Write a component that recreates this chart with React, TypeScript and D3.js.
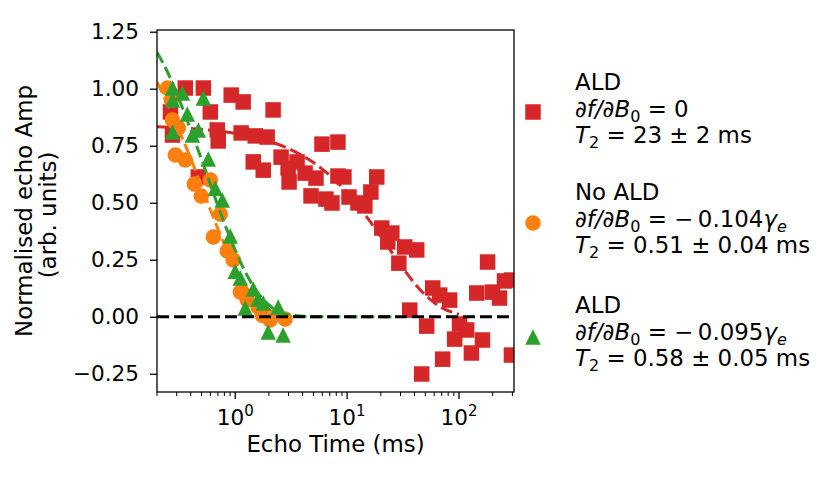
import React, { useRef, useEffect } from 'react';
import * as d3 from 'd3';

// ALD, df/dB0 = 0 (red squares)
const redTime = [0.264, 0.275, 0.358, 0.519, 0.921, 1.178, 0.599, 2.18, 0.691, 0.705, 1.13, 1.51, 1.93, 0.468,
  1.45, 1.78, 2.57, 2.97, 3.03, 3.57, 4.21, 5.27, 5.96, 8.28, 4.76, 6.47, 7.32, 8.28, 9.36, 10.4, 12.5, 14.4,
  16.3, 18.4, 20.4, 25.1, 23.1, 32.7, 41.9, 29.0, 58.2, 67.2, 82.5, 36.3, 51.4, 101, 117, 91.4, 162, 129, 71.4,
  46.4, 180, 144, 199, 230, 255, 294, 294];
const redAmp = [0.898, 0.797, 1.003, 1.003, 0.972, 0.942, 0.898, 0.907, 0.819, 0.771, 0.806, 0.793, 0.788, 0.613,
  0.679, 0.643, 0.700, 0.652, 0.591, 0.679, 0.630, 0.608, 0.757, 0.766, 0.530, 0.516, 0.499, 0.617, 0.613, 0.525,
  0.499, 0.486, 0.547, 0.613, 0.389, 0.367, 0.328, 0.306, 0.293, 0.235, 0.126, 0.095, 0.073, 0.029, -0.041, -0.032,
  -0.058, -0.098, -0.102, -0.159, -0.186, -0.251, 0.240, 0.104, 0.108, 0.082, 0.157, 0.161, -0.168];

// No ALD (orange circles)
const orangeTime = [0.248, 0.269, 0.275, 0.310, 0.292, 0.358, 0.431, 0.497, 0.599, 0.735, 0.637, 0.849, 0.960,
  1.11, 1.28, 1.60, 1.74, 2.05, 2.79];
const orangeAmp = [1.003, 0.951, 0.863, 0.828, 0.709, 0.687, 0.582, 0.529, 0.600, 0.450, 0.350, 0.288, 0.249,
  0.108, 0.073, 0.043, 0.007, -0.014, -0.010];

// ALD, df/dB0 = -0.095 (green triangles)
const greenTime = [0.275, 0.337, 0.519, 0.275, 0.373, 0.275, 0.414, 0.468, 0.574, 0.663, 0.766, 0.902, 1.0,
  1.11, 1.45, 1.60, 1.23, 1.78, 2.42, 1.97, 2.68];
const greenAmp = [1.003, 0.981, 0.959, 0.951, 0.889, 0.810, 0.797, 0.819, 0.692, 0.564, 0.512, 0.354, 0.200,
  0.170, 0.122, 0.078, 0.038, 0.060, 0.043, -0.067, -0.080];

// fitted curves
const redFitTime = [0.2, 0.5, 1, 2, 3, 5, 7, 10, 15, 20, 30, 40, 50, 70, 100];
const redFitAmp = [0.833, 0.822, 0.804, 0.770, 0.737, 0.676, 0.620, 0.544, 0.437, 0.353, 0.228, 0.147, 0.095, 0.040, 0.011];
const orangeFitTime = [0.2, 0.25, 0.3, 0.4, 0.5, 0.6, 0.8, 1.0, 1.3, 1.6, 2, 3];
const orangeFitAmp = [1.03, 0.93, 0.84, 0.695, 0.571, 0.469, 0.317, 0.214, 0.119, 0.066, 0.030, 0.004];
const greenFitTime = [0.2, 0.25, 0.3, 0.4, 0.5, 0.6, 0.8, 1.0, 1.3, 1.6, 2, 3, 5, 10, 25];
const greenFitAmp = [1.16, 1.07, 0.98, 0.82, 0.69, 0.58, 0.41, 0.292, 0.174, 0.104, 0.052, 0.009, 0.0003, 0, 0];

const yTicks = [-0.25, 0, 0.25, 0.5, 0.75, 1.0, 1.25];
const xTicks = [1, 10, 100];
const xTickExp = ['0', '1', '2'];

const legendHeads = ['ALD', 'No ALD', 'ALD'];
const legendSlopes = ['0', '0.104', '0.095'];
const legendT2 = ['23 ± 2 ms', '0.51 ± 0.04 ms', '0.58 ± 0.05 ms'];

const RED = '#d62728';
const ORANGE = '#ff7f0e';
const GREEN = '#2ca02c';

type Seg = { t: string; it?: boolean; sub?: boolean };

const App: React.FC = () => {
  const svgRef = useRef<SVGSVGElement>(null);

  useEffect(() => {
    if (!svgRef.current) return;
    const svg = d3.select(svgRef.current);
    svg.selectAll('*').remove();

    const left = 157, right = 514, top = 30, bottom = 392;
    const x = d3.scaleLog().domain([0.2, 310]).range([left, right]);
    const y = d3.scaleLinear().domain([-0.33, 1.2575]).range([bottom, top]);

    svg.append('clipPath').attr('id', 'plot-clip')
      .append('rect').attr('x', left).attr('y', top).attr('width', right - left).attr('height', bottom - top);

    const plot = svg.append('g').attr('clip-path', 'url(#plot-clip)');

    const line = d3.line<[number, number]>()
      .x(d => x(d[0]))
      .y(d => y(d[1]))
      .curve(d3.curveMonotoneX);

    const drawFit = (t: number[], a: number[], color: string) => {
      plot.append('path')
        .attr('d', line(t.map((v, i) => [v, a[i]] as [number, number])))
        .attr('fill', 'none')
        .attr('stroke', color)
        .attr('stroke-width', 3)
        .attr('stroke-dasharray', '12,5');
    };

    const size = 15.5;
    const square = d3.symbol().type(d3.symbolSquare).size(size * size);
    const circle = d3.symbol().type(d3.symbolCircle).size(Math.PI * (size / 2) * (size / 2));
    const triPath = `M0,${-size / 2}L${size / 2},${size / 2}L${-size / 2},${size / 2}Z`;

    // red
    plot.selectAll('.red').data(redTime).enter().append('path')
      .attr('d', square()!)
      .attr('transform', (d, i) => `translate(${x(d)},${y(redAmp[i])})`)
      .attr('fill', RED);
    drawFit(redFitTime, redFitAmp, RED);

    // orange
    plot.selectAll('.orange').data(orangeTime).enter().append('path')
      .attr('d', circle()!)
      .attr('transform', (d, i) => `translate(${x(d)},${y(orangeAmp[i])})`)
      .attr('fill', ORANGE);
    drawFit(orangeFitTime, orangeFitAmp, ORANGE);

    // green
    plot.selectAll('.green').data(greenTime).enter().append('path')
      .attr('d', triPath)
      .attr('transform', (d, i) => `translate(${x(d)},${y(greenAmp[i])})`)
      .attr('fill', GREEN);
    drawFit(greenFitTime, greenFitAmp, GREEN);

    // zero line
    plot.append('line')
      .attr('x1', left).attr('x2', right)
      .attr('y1', y(0)).attr('y2', y(0))
      .attr('stroke', 'black').attr('stroke-width', 3).attr('stroke-dasharray', '12,5');

    // y axis
    const yAxis = svg.append('g').attr('transform', `translate(${left},0)`)
      .call(d3.axisLeft(y).tickValues(yTicks).tickSize(7).tickPadding(11)
        .tickFormat(d => d3.format('.2f')(d as number).replace('-', '\u2212')));
    yAxis.select('.domain').remove();
    yAxis.selectAll('line').attr('stroke-width', 1.3);
    yAxis.selectAll('text').attr('font-family', 'DejaVu Sans').attr('font-size', 21.6).attr('fill', 'black');

    // x axis, major + minor ticks
    const minor = x.ticks().filter(t => !xTicks.some(m => Math.abs(m - t) < 1e-9));
    const xg = svg.append('g');
    xg.selectAll('.maj').data(xTicks).enter().append('line')
      .attr('x1', d => x(d)).attr('x2', d => x(d)).attr('y1', bottom).attr('y2', bottom + 7)
      .attr('stroke', 'black').attr('stroke-width', 1.3);
    xg.selectAll('.min').data(minor).enter().append('line')
      .attr('x1', d => x(d)).attr('x2', d => x(d)).attr('y1', bottom).attr('y2', bottom + 4)
      .attr('stroke', 'black').attr('stroke-width', 1);
    xTicks.forEach((t, i) => {
      const tx = xg.append('text')
        .attr('x', x(t)).attr('y', 425)
        .attr('text-anchor', 'middle')
        .attr('font-family', 'DejaVu Sans').attr('font-size', 21.6);
      tx.append('tspan').text('10');
      tx.append('tspan').attr('dy', -9).attr('font-size', 15).text(xTickExp[i]);
    });

    // frame
    svg.append('rect')
      .attr('x', left).attr('y', top).attr('width', right - left).attr('height', bottom - top)
      .attr('fill', 'none').attr('stroke', 'black').attr('stroke-width', 1.3);

    // axis labels
    svg.append('text')
      .attr('x', (left + right) / 2).attr('y', 452)
      .attr('text-anchor', 'middle')
      .attr('font-family', 'DejaVu Sans').attr('font-size', 22.9)
      .text('Echo Time (ms)');
    const ylab = svg.append('g').attr('font-family', 'DejaVu Sans').attr('font-size', 22.9);
    ylab.append('text')
      .attr('transform', `translate(32,${(top + bottom) / 2}) rotate(-90)`)
      .attr('text-anchor', 'middle').text('Normalised echo Amp');
    ylab.append('text')
      .attr('transform', `translate(56,${(top + bottom) / 2 + 4}) rotate(-90)`)
      .attr('text-anchor', 'middle').text('(arb. units)');

    // legend
    const fs = 22.9;
    const lg = svg.append('g').attr('font-family', 'DejaVu Sans').attr('font-size', fs);
    const addLine = (lx: number, ly: number, segs: Seg[]) => {
      const text = lg.append('text').attr('x', lx).attr('y', ly);
      let shifted = false;
      segs.forEach(s => {
        const ts = text.append('tspan').text(s.t);
        if (s.it) ts.attr('font-style', 'italic');
        if (s.sub) {
          ts.attr('font-size', fs * 0.7);
          if (!shifted) { ts.attr('dy', fs * 0.24); shifted = true; }
        } else if (shifted) {
          ts.attr('dy', -fs * 0.24); shifted = false;
        }
      });
    };
    const entryTop = [90, 200, 313];
    const markerY = [112, 223, 337];
    const colors = [RED, ORANGE, GREEN];
    const markerPaths = [square()!, circle()!, triPath];
    legendHeads.forEach((head, i) => {
      const b = entryTop[i];
      addLine(575, b, [{ t: head }]);
      const slope: Seg[] = [{ t: '∂', it: true }, { t: 'f', it: true }, { t: '/∂', it: true }, { t: 'B', it: true }, { t: '0', sub: true }];
      if (legendSlopes[i] === '0') slope.push({ t: ' = 0' });
      else slope.push({ t: ' = \u2212\u2009' + legendSlopes[i] }, { t: 'γ', it: true }, { t: 'e', it: true, sub: true });
      addLine(575, b + 26.5, slope);
      addLine(575, b + 53, [{ t: 'T', it: true }, { t: '2', sub: true }, { t: ' = ' + legendT2[i] }]);
      lg.append('path')
        .attr('d', markerPaths[i])
        .attr('transform', `translate(533,${markerY[i]})`)
        .attr('fill', colors[i]);
    });
  }, []);

  return (
    <svg ref={svgRef} width={830} height={495}
      style={{ position: 'absolute', left: 0, top: 0, background: '#fff' }} />
  );
};

export default App;
